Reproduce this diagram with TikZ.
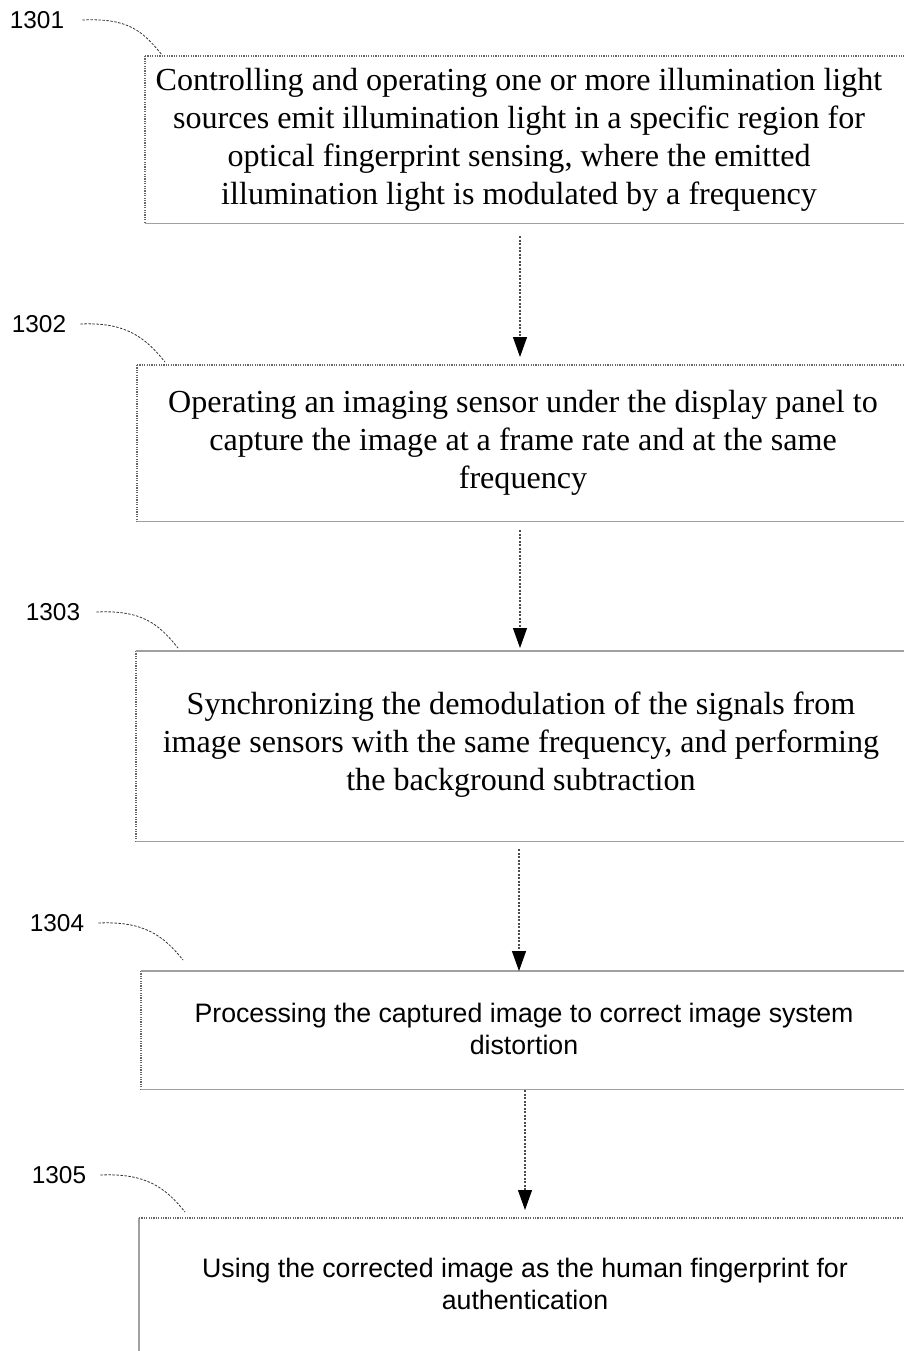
\documentclass[tikz,border=0pt]{standalone}
\usepackage{fontspec}
\setmainfont{Liberation Serif}
\newfontfamily\arialf{Liberation Sans}
\usetikzlibrary{arrows.meta}
\definecolor{edgegray}{HTML}{666666}
\definecolor{bottomgray}{HTML}{A0A0A0}
\tikzset{
  boxn/.style={draw=none, inner sep=0pt, anchor=north west, minimum width=900pt},
  dotline/.style={draw=edgegray, line width=1.1pt, dash pattern=on 1.2pt off 1.2pt},
  solidline/.style={draw=bottomgray, line width=1.8pt},
  serifstep/.style={align=center, font=\fontsize{32.1}{38}\selectfont, inner sep=0pt},
  sansstep/.style={align=center, font=\arialf\fontsize{26.7}{32}\selectfont, inner sep=0pt},
  numlab/.style={font=\arialf\fontsize{24.4}{26}\selectfont, inner sep=0pt},
  leader/.style={draw=black!80, line width=0.8pt, dash pattern=on 2.5pt off 1.5pt},
  flowarr/.style={draw=black!70, line width=1.1pt, dash pattern=on 2pt off 1.5pt,
    -{Triangle[width=14pt,length=20pt,color=black,fill=black]}}
}
\begin{document}
\begin{tikzpicture}[x=1pt,y=-1pt]
\useasboundingbox (0,0) rectangle (903,1351);

% boxes (invisible frames)
\node[boxn, minimum height=167pt] (b1) at (145,56) {};
\node[boxn, minimum height=156pt] (b2) at (137,365) {};
\node[boxn, minimum height=190pt] (b3) at (136,651) {};
\node[boxn, minimum height=118pt] (b4) at (141,971) {};
\node[boxn, minimum height=190pt] (b5) at (139,1218) {};

% box 1 edges
\draw[dotline] (b1.north west) -- (b1.south west);
\draw[dotline] (b1.north west) -- (b1.north east);
\draw[solidline] (b1.south west) -- (b1.south east);
% box 2 edges
\draw[dotline] (b2.north west) -- (b2.south west);
\draw[dotline] (b2.north west) -- (b2.north east);
\draw[solidline] (b2.south west) -- (b2.south east);
% box 3 edges
\draw[dotline] (b3.north west) -- (b3.south west);
\draw[solidline] (b3.north west) -- (b3.north east);
\draw[solidline] (b3.south west) -- (b3.south east);
% box 4 edges
\draw[dotline] (b4.north west) -- (b4.south west);
\draw[solidline] (b4.north west) -- (b4.north east);
\draw[solidline] (b4.south west) -- (b4.south east);
% box 5 edges
\draw[solidline] (b5.north west) -- (b5.south west);
\draw[dotline] (b5.north west) -- (b5.north east);

% texts
\node[serifstep] (t1) at (519,140) {Controlling and operating one or more illumination light\\sources emit illumination light in a specific region for\\optical fingerprint sensing, where the emitted\\illumination light is modulated by a frequency};
\node[serifstep] (t2) at (523,443) {Operating an imaging sensor under the display panel to\\capture the image at a frame rate and at the same\\frequency};
\node[serifstep] (t3) at (521,745) {Synchronizing the demodulation of the signals from\\image sensors with the same frequency, and performing\\the background subtraction};
\node[sansstep] (t4) at (524,1029) {Processing the captured image to correct image system\\distortion};
\node[sansstep] (t5) at (525,1284) {Using the corrected image as the human fingerprint for\\authentication};

% labels
\node[numlab] (l1) at (37,20) {1301};
\node[numlab] (l2) at (39,324) {1302};
\node[numlab] (l3) at (53,612) {1303};
\node[numlab] (l4) at (57,923) {1304};
\node[numlab] (l5) at (59,1175) {1305};

\coordinate (c1) at (162,55);
\coordinate (c2) at (165,362);
\coordinate (c3) at (178,648);
\coordinate (c4) at (183,960);
\coordinate (c5) at (185,1212);

\draw[leader] ([xshift=18pt]l1.east) .. controls +(45,-2) and +(-20,-25) .. (c1);
\draw[leader] ([xshift=14pt]l2.east) .. controls +(45,-2) and +(-20,-25) .. (c2);
\draw[leader] ([xshift=16pt]l3.east) .. controls +(45,-2) and +(-20,-25) .. (c3);
\draw[leader] ([xshift=14pt]l4.east) .. controls +(45,-2) and +(-20,-25) .. (c4);
\draw[leader] ([xshift=14pt]l5.east) .. controls +(45,-2) and +(-20,-25) .. (c5);

% flow arrows
\coordinate (a1) at (520,236);
\coordinate (a2) at (520,530);
\coordinate (a3) at (519,849);
\coordinate (a4) at (525,1090);
\draw[flowarr, shorten >=8pt] (a1) -- (a1 |- b2.north);
\draw[flowarr, shorten >=3pt] (a2) -- (a2 |- b3.north);
\draw[flowarr] (a3) -- (a3 |- b4.north);
\draw[flowarr, shorten >=8pt] (a4) -- (a4 |- b5.north);
\end{tikzpicture}
\end{document}
